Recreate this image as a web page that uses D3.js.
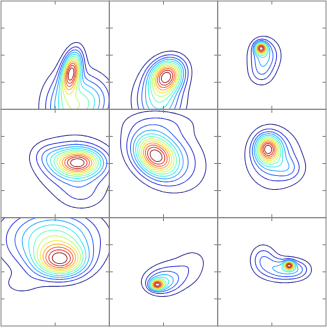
<!DOCTYPE html>
<html><head><meta charset="utf-8">
<script src="https://cdn.jsdelivr.net/npm/d3@7"></script>
<style>html,body{margin:0;padding:0;background:#fff;}svg{display:block;}</style>
</head><body>
<svg id="chart" width="327" height="328"></svg>
<script>
// Gaussian components per panel: [cx, cy, sx, sy, rho, amp] in data units (0..100, y up)
const panelA = [[65,35,6,12,0.35,1],[66,2,16,20,0,0.6],[88,10,12,14,0,0.2]];
const panelB = [[53,31,10,10,0.15,1],[46,8,14,16,0,0.5],[62,40,9,8,0,0.05]];
const panelC = [[40,56.5,3.5,3.5,0,1],[43,50,9,10,0,0.45],[40,33,8,8,0,0.22]];
const panelD = [[71,51,14,8,0,1],[68,48,22,17,0,0.4],[42,58,10,8,0,0.15],[75,20,15,10,0,0.15]];
const panelE = [[42,57,12,12,-0.3,1],[52,58,22,20,-0.3,0.45],[50,88,25,8,0,0.12]];
const panelF = [[46,64,7,8,0,1],[50,58,12,14,0,0.45],[66,45,8,7,0,0.2],[55,50,22,22,0,0.15]];
const panelG = [[55,60,15,10,0,1],[48,80,28,18,0,0.7],[18,38,14,8,0,0.12]];
const panelH = [[44,38,4,3,0,1],[48,40,10,7,0,0.5],[62,48,16,10,0,0.25],[78,62,10,8,0,0.12]];
const panelI = [[66,56,3,2.5,0,1],[60,52,12,7,0,0.45],[42,62,8,9,0,0.3],[75,52,8,6,0,0.2]];
const panels = [panelA,panelB,panelC,panelD,panelE,panelF,panelG,panelH,panelI];
const xTicks = [50];
const yTicks = [25,50,75];
const nLevels = 12;

const svg = d3.select("#chart");
const L = 1, T = 1, R = 326, B = 326;
const cw = (R-L)/3, ch = (B-T)/3;
const jet = d3.interpolateRgbBasis(["#00007f","#0000ff","#007fff","#00ffff","#7fff7f","#ffff00","#ff7f00","#ff0000","#7f0000"]);
const lo = -15, hi = 115, n = 130;

function dens(comps, x, y){
  let s = 0;
  for (const [cx,cy,sx,sy,r,a] of comps){
    const dx=(x-cx)/sx, dy=(y-cy)/sy;
    const q=(dx*dx - 2*r*dx*dy + dy*dy)/(1-r*r);
    s += a*Math.exp(-0.5*q);
  }
  return s;
}

panels.forEach((comps, k) => {
  const row = Math.floor(k/3), col = k%3;
  const x0 = L + col*cw, y0 = T + row*ch;
  const xs = d3.scaleLinear().domain([0,100]).range([x0, x0+cw]);
  const ys = d3.scaleLinear().domain([0,100]).range([y0+ch, y0]);
  const vals = new Float64Array(n*n);
  for (let j=0;j<n;j++) for (let i=0;i<n;i++){
    const x = lo + (i+0.5)/n*(hi-lo);
    const y = hi - (j+0.5)/n*(hi-lo);
    vals[i+j*n] = dens(comps,x,y);
  }
  const M = d3.max(vals);
  const th = d3.range(1,nLevels+1).map(i => M*i/(nLevels+1));
  const conts = d3.contours().size([n,n]).thresholds(th)(vals);
  const proj = d3.geoTransform({point:function(u,v){
    this.stream.point(xs(lo + u/n*(hi-lo)), ys(hi - v/n*(hi-lo)));
  }});
  const path = d3.geoPath(proj);
  const cid = "clip"+k;
  svg.append("clipPath").attr("id",cid).append("rect")
    .attr("x",x0).attr("y",y0).attr("width",cw).attr("height",ch);
  const g = svg.append("g").attr("clip-path",`url(#${cid})`);
  g.selectAll("path").data(conts).join("path")
    .attr("d",path).attr("fill","none")
    .attr("stroke",(d,i)=>jet(i/(nLevels-1)))
    .attr("stroke-opacity",0.65).attr("stroke-width",1.1);
  svg.append("rect").attr("x",x0).attr("y",y0).attr("width",cw).attr("height",ch)
    .attr("fill","none").attr("stroke","#8a8a8a").attr("stroke-width",1);
  const tk = svg.append("g").attr("stroke","#8a8a8a").attr("stroke-width",1);
  xTicks.forEach(t=>{
    tk.append("line").attr("x1",xs(t)).attr("x2",xs(t)).attr("y1",y0+ch).attr("y2",y0+ch-3.5);
    tk.append("line").attr("x1",xs(t)).attr("x2",xs(t)).attr("y1",y0).attr("y2",y0+3.5);
  });
  yTicks.forEach(t=>{
    tk.append("line").attr("y1",ys(t)).attr("y2",ys(t)).attr("x1",x0).attr("x2",x0+3.5);
    tk.append("line").attr("y1",ys(t)).attr("y2",ys(t)).attr("x1",x0+cw).attr("x2",x0+cw-3.5);
  });
});
</script>
</body></html>
